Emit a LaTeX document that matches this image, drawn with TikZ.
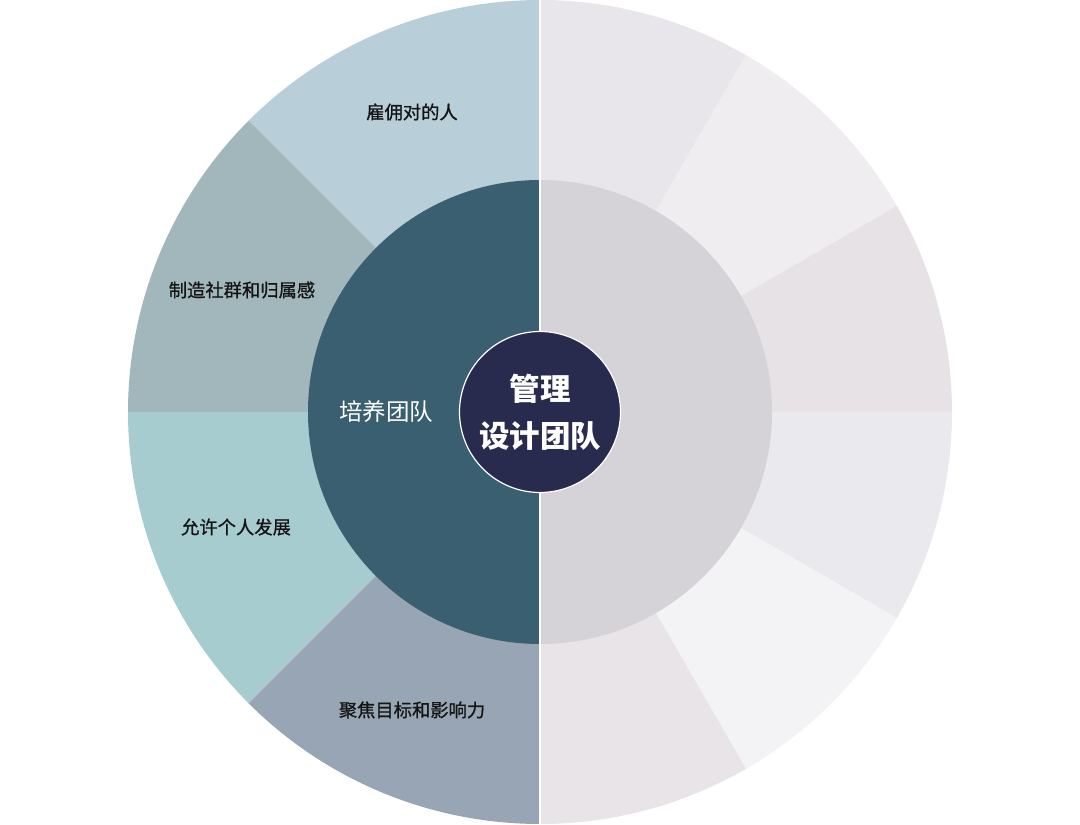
\documentclass[tikz,border=0pt]{standalone}
\usepackage{fontspec}
\newfontfamily\cjk{Noto Sans CJK SC}
\newfontfamily\cjkm[FakeBold=0.8]{Noto Sans CJK SC}
\definecolor{lA}{HTML}{B8CFDA}
\definecolor{lB}{HTML}{A2B7BC}
\definecolor{lC}{HTML}{A7CCCF}
\definecolor{lD}{HTML}{97A5B4}
\definecolor{midL}{HTML}{3A5F70}
\definecolor{midR}{HTML}{D5D3D8}
\definecolor{coreC}{HTML}{282B4E}
\definecolor{rA}{HTML}{E8E6EB}
\definecolor{rB}{HTML}{EFEDEF}
\definecolor{rC}{HTML}{E7E2E6}
\definecolor{rD}{HTML}{EAE9EE}
\definecolor{rE}{HTML}{F3F2F5}
\definecolor{rF}{HTML}{E8E4E8}
\tikzset{
  lbl/.style={font=\cjkm\fontsize{18.3}{22}\selectfont, text=black!92, inner sep=0pt},
  wlbl/.style={font=\cjk\fontsize{23.5}{28}\selectfont, text=white, inner sep=0pt},
}
\begin{document}
\begin{tikzpicture}[x=1pt,y=1pt]
\useasboundingbox (0,0) rectangle (1080,825);
\coordinate (c) at (540,413);
% outer ring
\foreach \a/\b/\col in {90/135/lA,135/180/lB,180/225/lC,225/270/lD,
  60/90/rA,30/60/rB,0/30/rC,-30/0/rD,-60/-30/rE,-90/-60/rF}{
  \fill[\col] (c) -- ++(\a:412pt) arc[start angle=\a,end angle=\b,radius=412pt] -- cycle;
}
% middle ring
\fill[midL] (c) -- ++(90:232pt) arc[start angle=90,end angle=270,radius=232pt] -- cycle;
\fill[midR] (c) -- ++(-90:232pt) arc[start angle=-90,end angle=90,radius=232pt] -- cycle;
% divider
\coordinate (top) at (540,825);
\coordinate (bot) at (540,0);
\draw[white, line width=2pt] (top) -- (bot);
% core
\node[circle, minimum size=161pt, fill=coreC, draw=white, line width=1.2pt, inner sep=0pt,
      font=\cjk\bfseries\fontsize{30.5}{47}\selectfont, text=white, align=center] (core) at (c) {管理\\设计团队};
% labels
\node[wlbl] (grow) at (386,413) {培养团队};
\node[lbl] (hire) at (412,713) {雇佣对的人};
\node[lbl] (comm) at (242,535) {制造社群和归属感};
\node[lbl] (dev) at (236,298) {允许个人发展};
\node[lbl] (focus) at (412,115) {聚焦目标和影响力};
\end{tikzpicture}
\end{document}
